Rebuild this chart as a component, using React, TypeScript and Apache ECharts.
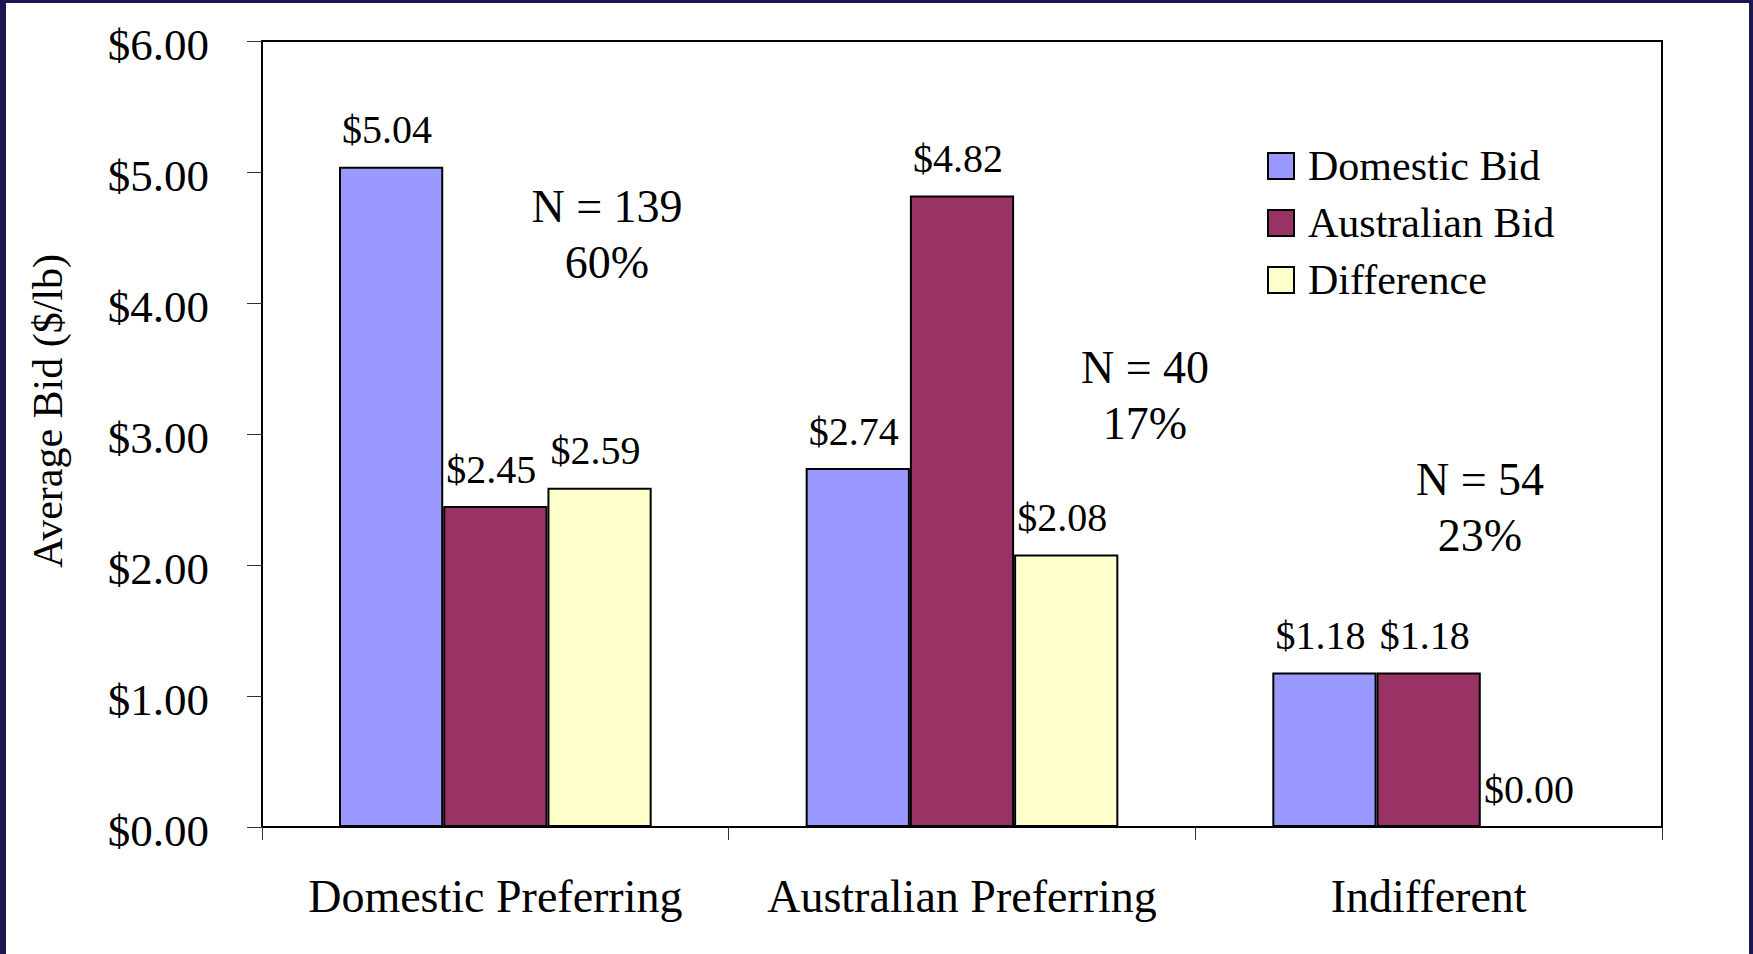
import React, { useEffect, useRef } from "react";
import * as echarts from "echarts";

const categories = ["Domestic Preferring", "Australian Preferring", "Indifferent"];
const seriesNames = ["Domestic Bid", "Australian Bid", "Difference"];
const domesticBid = [5.04, 2.74, 1.18];
const australianBid = [2.45, 4.82, 1.18];
const difference = [2.59, 2.08, 0.0];
const colors = ["#9999FF", "#993366", "#FFFFCC"];
const annotations = [
  { text: "N = 139\n60%", cx: 607, cy: 234 },
  { text: "N = 40\n17%", cx: 1145, cy: 395 },
  { text: "N = 54\n23%", cx: 1480, cy: 507 },
];
const yTitle = "Average Bid ($/lb)";

const FONT = "'Liberation Serif', 'Times New Roman', serif";
const W = 1753;
const H = 954;
const FRAME = "#1c1652";

export default function App() {
  const ref = useRef<HTMLDivElement>(null);
  useEffect(() => {
    if (!ref.current) return;
    const chart = echarts.init(ref.current, undefined, { renderer: "svg", width: W, height: H });
    const values = [domesticBid, australianBid, difference];
    const fmt = (v: number) => "$" + Number(v).toFixed(2);
    chart.setOption({
      animation: false,
      backgroundColor: "#ffffff",
      textStyle: { fontFamily: FONT, color: "#000" },
      grid: {
        left: 262,
        right: 91,
        top: 41,
        bottom: 127,
        show: true,
        borderColor: "#000",
        borderWidth: 2,
        containLabel: false,
      },
      legend: {
        orient: "vertical",
        left: 1262,
        top: 140,
        itemWidth: 26,
        itemHeight: 26,
        itemGap: 15,
        icon: "rect",
        data: seriesNames,
        textStyle: { fontFamily: FONT, fontSize: 42, color: "#000", padding: [0, 0, 0, 9] },
      },
      xAxis: {
        type: "category",
        data: categories,
        axisLine: { show: true, lineStyle: { color: "#000", width: 2 } },
        axisTick: { show: true, length: 13, lineStyle: { color: "#333", width: 1 } },
        axisLabel: {
          fontFamily: FONT,
          fontSize: 46,
          color: "#000",
          margin: 46,
          interval: 0,
          hideOverlap: false,
        },
        splitLine: { show: false },
      },
      yAxis: {
        type: "value",
        min: 0,
        max: 6,
        interval: 1,
        axisLine: { show: true, lineStyle: { color: "#000", width: 2 } },
        axisTick: { show: true, length: 15, lineStyle: { color: "#333", width: 1 } },
        axisLabel: {
          fontFamily: FONT,
          fontSize: 45,
          color: "#000",
          margin: 53,
          formatter: (v: number) => "{t|" + fmt(v) + "}",
          rich: {
            t: { fontFamily: FONT, fontSize: 45, color: "#000", padding: [8, 0, 0, 0] },
          },
        },
        splitLine: { show: false },
      },
      series: seriesNames.map((name, i) => ({
        name,
        type: "bar",
        data: values[i],
        barGap: "0%",
        barCategoryGap: "33%",
        itemStyle: { color: colors[i], borderColor: "#000", borderWidth: 2 },
        label: {
          show: true,
          position: "top",
          distance: 17,
          offset: [-4, 0],
          fontFamily: FONT,
          fontSize: 40,
          color: "#000",
          formatter: (p: any) => fmt(p.value),
        },
      })),
      graphic: [
        { type: "rect", left: 0, top: 0, shape: { x: 0, y: 0, width: 6, height: H }, style: { fill: FRAME }, silent: true },
        { type: "rect", left: 0, top: 0, shape: { x: 0, y: 0, width: W, height: 3 }, style: { fill: FRAME }, silent: true },
        { type: "rect", right: 0, top: 0, shape: { x: 0, y: 0, width: 4, height: H }, style: { fill: FRAME }, silent: true },
        {
          type: "text",
          x: 48,
          y: 411,
          rotation: Math.PI / 2,
          style: { text: yTitle, fill: "#000", font: `42px ${FONT}`, align: "center", verticalAlign: "middle" },
          silent: true,
        },
        ...annotations.map((a) => ({
          type: "text",
          x: a.cx,
          y: a.cy,
          style: {
            text: a.text,
            fill: "#000",
            font: `46px ${FONT}`,
            align: "center",
            verticalAlign: "middle",
            lineHeight: 56,
          },
          silent: true,
        })),
      ],
    });
    return () => chart.dispose();
  }, []);
  return (
    <div
      ref={ref}
      style={{ position: "absolute", left: 0, top: 0, width: W, height: H, background: "#fff" }}
    />
  );
}
